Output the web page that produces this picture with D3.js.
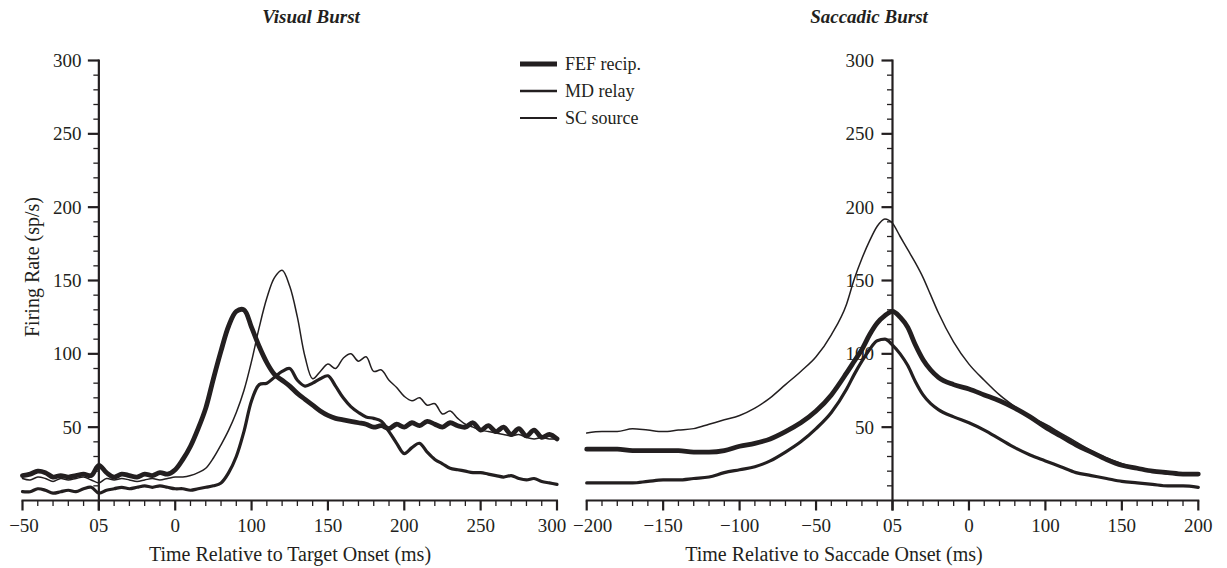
<!DOCTYPE html>
<html>
<head>
<meta charset="utf-8">
<script src="https://cdn.jsdelivr.net/npm/d3@7"></script>
<style>
  html, body { margin: 0; padding: 0; background: #ffffff; }
  svg { display: block; }
  text { font-family: "Liberation Serif", "Times New Roman", serif; fill: #231f20; }
</style>
</head>
<body>
<svg id="chart" width="1227" height="568"></svg>
<script>
// ---------------- DATA ----------------
const seriesNames = ["FEF recip.", "MD relay", "SC source"];

// Visual burst (time relative to target onset, ms)
const visualTimes = [-50,-45,-40,-35,-30,-25,-20,-15,-10,-5,0,5,10,15,20,25,30,35,40,45,50,55,60,65,70,75,80,85,90,95,100,105,110,115,120,125,130,135,140,145,150,155,160,165,170,175,180,185,190,195,200,205,210,215,220,225,230,235,240,245,250,255,260,265,270,275,280,285,290,295,300];
const visualFEF = [17,18,20,19,16,17,16,17,18,17,24,19,16,18,17,16,18,17,19,18,21,28,37,49,63,83,102,119,129,130,118,105,94,86,82,78,73,69,65,61,58,56,55,54,53,52,50,51,49,52,50,53,51,54,52,50,53,51,50,53,48,51,47,50,45,49,44,48,43,45,42];
const visualMD = [6,6,8,7,5,6,7,6,8,9,5,7,8,9,8,9,10,9,10,9,8,8,7,8,9,10,12,19,30,47,68,79,80,84,88,90,82,78,80,83,85,78,70,64,60,57,56,54,47,39,32,36,39,33,28,25,22,21,20,19,19,18,17,16,17,15,14,15,13,12,11];
const visualSC = [15,14,16,15,13,15,14,15,16,14,12,15,14,15,14,13,14,15,14,15,16,16,17,19,22,29,38,48,60,75,95,118,138,152,157,146,125,98,83,88,93,90,97,100,95,98,88,89,82,77,71,68,70,65,66,59,61,56,52,50,48,47,46,45,44,45,43,42,43,42,42];

// Saccadic burst (time relative to saccade onset, ms)
const saccadeTimes = [-200,-190,-180,-170,-160,-150,-140,-130,-120,-110,-100,-90,-80,-70,-60,-50,-40,-30,-25,-20,-15,-10,-5,0,5,10,15,20,25,30,40,50,60,70,80,90,100,110,120,130,140,150,160,170,180,190,200];
const saccadeFEF = [35,35,35,34,34,34,34,33,33,34,37,39,42,47,53,61,72,87,95,103,113,121,126,129,125,118,106,96,89,84,79,76,72,68,63,57,50,44,38,33,28,24,22,20,19,18,18];
const saccadeMD = [12,12,12,12,13,14,14,15,16,19,21,23,27,33,40,49,60,76,86,95,103,109,110,106,100,92,81,72,66,62,57,53,48,42,36,31,27,23,19,17,15,13,12,11,10,10,9];
const saccadeSC = [46,47,47,49,48,47,48,49,52,55,58,63,70,79,88,98,113,134,151,165,177,187,192,189,180,171,162,152,140,128,108,93,82,72,64,57,52,46,40,34,29,25,22,20,18,18,18];

// Axis ticks and labels
const visualTickValues = [-50,0,50,100,150,200,250,300];
const visualTickLabels = ["\u221250","05","0","100","150","200","250","300"];
const saccadeTickValues = [-200,-150,-100,-50,0,50,100,150,200];
const saccadeTickLabels = ["\u2212200","\u2212150","\u2212100","\u221250","05","0","100","150","200"];
const yTickValues = [50,100,150,200,250,300];
const yTickLabels = ["50","100","150","200","250","300"];

// ---------------- DRAWING ----------------
const ink = "#231f20";
const svg = d3.select("#chart");

const y = d3.scaleLinear().domain([0, 300]).range([500.5, 60.5]);
const xL = d3.scaleLinear().domain([-50, 300]).range([22.5, 557]);
const xR = d3.scaleLinear().domain([-200, 200]).range([586.7, 1198.3]);

const styles = {
  "FEF recip.": 4.8,
  "MD relay": 3.2,
  "SC source": 1.5
};

function drawPanel(x, times, seriesList, tickValues, tickLabels, yLabelEnd, curve, labelNudge) {
  const g = svg.append("g");
  const y0 = y(0);
  const x0 = x(0);
  const [xa, xb] = x.domain();

  // x axis minor ticks
  const minorX = d3.range(xa, xb + 0.1, 10).filter(v => !tickValues.includes(v));
  g.selectAll(null).data(minorX).join("line")
    .attr("x1", d => x(d)).attr("x2", d => x(d))
    .attr("y1", y0).attr("y2", y0 + 5.5)
    .attr("stroke", ink).attr("stroke-width", 1.3);
  g.selectAll(null).data(tickValues).join("line")
    .attr("x1", d => x(d)).attr("x2", d => x(d))
    .attr("y1", y0).attr("y2", y0 + 10)
    .attr("stroke", ink).attr("stroke-width", 2.2);
  g.append("line")
    .attr("x1", x(xa) - 1).attr("x2", x(xb) + 1)
    .attr("y1", y0).attr("y2", y0)
    .attr("stroke", ink).attr("stroke-width", 2.2);
  g.selectAll(null).data(tickValues).join("text")
    .attr("x", (d, i) => x(d) + (labelNudge[i] || 0)).attr("y", 532)
    .attr("text-anchor", "middle")
    .attr("font-size", 19)
    .text((d, i) => tickLabels[i]);

  // y axis
  const minorY = d3.range(10, 301, 10).filter(v => !yTickValues.includes(v));
  g.selectAll(null).data(minorY).join("line")
    .attr("x1", x0 - 5.5).attr("x2", x0)
    .attr("y1", d => y(d)).attr("y2", d => y(d))
    .attr("stroke", ink).attr("stroke-width", 1.3);
  g.selectAll(null).data(yTickValues).join("line")
    .attr("x1", x0 - 11).attr("x2", x0)
    .attr("y1", d => y(d)).attr("y2", d => y(d))
    .attr("stroke", ink).attr("stroke-width", 2.2);
  g.append("line")
    .attr("x1", x0).attr("x2", x0)
    .attr("y1", y(300) - 1).attr("y2", y0 + 10)
    .attr("stroke", ink).attr("stroke-width", 2.2);
  g.selectAll(null).data(yTickValues).join("text")
    .attr("x", yLabelEnd).attr("y", d => y(d))
    .attr("dy", "0.34em")
    .attr("text-anchor", "end")
    .attr("font-size", 19)
    .text((d, i) => yTickLabels[i]);

  // series lines
  const line = d3.line()
    .x(d => x(d[0])).y(d => y(d[1]))
    .curve(curve);
  seriesList.forEach(s => {
    g.append("path")
      .datum(times.map((t, i) => [t, s.values[i]]))
      .attr("d", line)
      .attr("fill", "none")
      .attr("stroke", ink)
      .attr("stroke-width", styles[s.name])
      .attr("stroke-linejoin", "round")
      .attr("stroke-linecap", "round");
  });
  return g;
}

drawPanel(xL, visualTimes, [
  {name: "SC source", values: visualSC},
  {name: "MD relay", values: visualMD},
  {name: "FEF recip.", values: visualFEF}
], visualTickValues, visualTickLabels, 81.5, d3.curveCatmullRom.alpha(0.5),
  [1.5, 0, 0, 0, 0, 0, 0, -5]);

drawPanel(xR, saccadeTimes, [
  {name: "SC source", values: saccadeSC},
  {name: "MD relay", values: saccadeMD},
  {name: "FEF recip.", values: saccadeFEF}
], saccadeTickValues, saccadeTickLabels, 874, d3.curveMonotoneX,
  [6, 0, 0, 0, 0, 0, 0, 0, 0]);

// titles
svg.append("text").attr("x", 311).attr("y", 23)
  .attr("text-anchor", "middle").attr("font-size", 19)
  .attr("font-weight", "bold").attr("font-style", "italic")
  .text("Visual Burst");
svg.append("text").attr("x", 869).attr("y", 23)
  .attr("text-anchor", "middle").attr("font-size", 19)
  .attr("font-weight", "bold").attr("font-style", "italic")
  .text("Saccadic Burst");

// axis titles
svg.append("text").attr("x", 290).attr("y", 561)
  .attr("text-anchor", "middle").attr("font-size", 20)
  .text("Time Relative to Target Onset (ms)");
svg.append("text").attr("x", 834).attr("y", 561)
  .attr("text-anchor", "middle").attr("font-size", 20)
  .text("Time Relative to Saccade Onset (ms)");
svg.append("text")
  .attr("transform", "translate(39,267) rotate(-90)")
  .attr("text-anchor", "middle").attr("font-size", 20)
  .text("Firing Rate (sp/s)");

// legend
const legendY = [64, 91, 118];
const legend = svg.append("g");
seriesNames.forEach((name, i) => {
  legend.append("line")
    .attr("x1", 520).attr("x2", 557)
    .attr("y1", legendY[i]).attr("y2", legendY[i])
    .attr("stroke", ink)
    .attr("stroke-width", i === 0 ? 4.8 : (i === 1 ? 2.4 : 2));
  legend.append("text")
    .attr("x", 565).attr("y", legendY[i])
    .attr("dy", "0.34em")
    .attr("font-size", 18)
    .text(name);
});
</script>
</body>
</html>
